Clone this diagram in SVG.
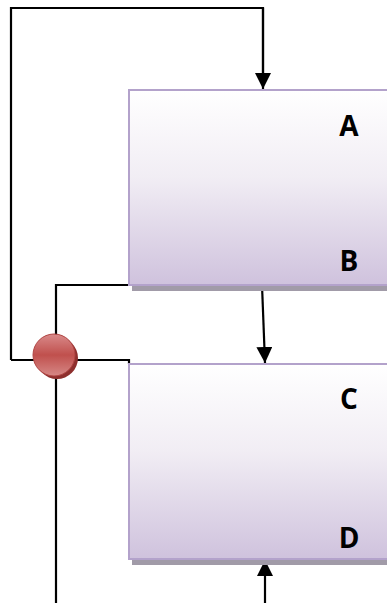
<svg xmlns="http://www.w3.org/2000/svg" width="387" height="603" viewBox="0 0 387 603">
<defs>
<linearGradient id="boxg" x1="0" y1="0" x2="0" y2="1">
<stop offset="0" stop-color="#ffffff"/>
<stop offset="0.45" stop-color="#f1edf4"/>
<stop offset="1" stop-color="#cfc2dd"/>
</linearGradient>
<linearGradient id="ballg" x1="0" y1="0" x2="0" y2="1">
<stop offset="0" stop-color="#d98a8a"/>
<stop offset="0.5" stop-color="#c0504d"/>
<stop offset="1" stop-color="#d68886"/>
</linearGradient>
<marker id="arr" markerWidth="16" markerHeight="16" refX="16" refY="8" orient="auto" markerUnits="userSpaceOnUse" viewBox="0 0 16 16">
<path d="M0,0 L16,8 L0,16 Z" fill="#000"/>
</marker>
<style>
.box{fill:url(#boxg);stroke:#b3a2cb;stroke-width:2}
.shadow{fill:#a19ba8}
.lbl{font-family:"Open Sans","Liberation Sans",sans-serif;font-weight:bold;font-size:28px;fill:#000}
.ln{fill:none;stroke:#000;stroke-width:2.2}
</style>
</defs>
<g id="connectors">
<polyline class="ln" points="11,360 11,8 263,8 263,75"/>
<line class="ln" x1="263" y1="8" x2="263" y2="89" marker-end="url(#arr)"/>
<polyline class="ln" points="129,285 56,285 56,603"/>
<polyline class="ln" points="11,360 129,360 129,364"/>
<line class="ln" x1="262" y1="285" x2="265" y2="363" marker-end="url(#arr)"/>
<line class="ln" x1="265" y1="603" x2="265" y2="560" marker-end="url(#arr)"/>
</g>
<g id="nodeAB">
<rect class="shadow" x="132" y="285" width="260" height="6"/>
<rect class="box" x="129" y="90" width="262" height="195"/>
<text class="lbl" x="349" y="136" text-anchor="middle">A</text>
<text class="lbl" x="349" y="271" text-anchor="middle">B</text>
</g>
<g id="nodeCD">
<rect class="shadow" x="132" y="559" width="260" height="6"/>
<rect class="box" x="129" y="364" width="262" height="195"/>
<text class="lbl" x="349" y="409" text-anchor="middle">C</text>
<text class="lbl" x="349" y="548" text-anchor="middle">D</text>
</g>
<g id="junction">
<circle cx="57" cy="358" r="21" fill="#8e2f2d"/>
<circle cx="54" cy="355" r="21" fill="url(#ballg)" stroke="#b04442" stroke-width="1"/>
</g>
</svg>
